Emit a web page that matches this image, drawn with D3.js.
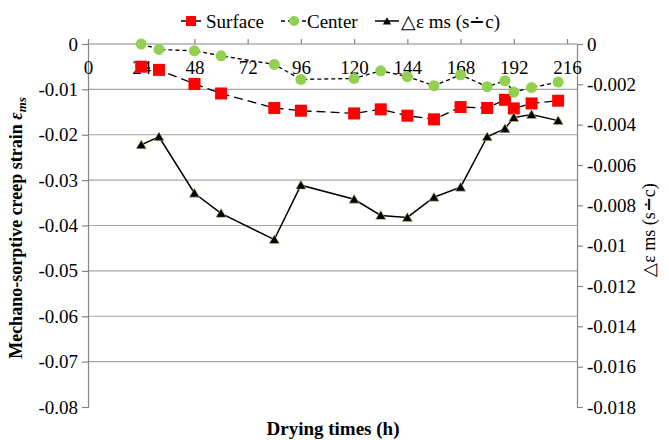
<!DOCTYPE html>
<html>
<head>
<meta charset="utf-8">
<script src="https://cdn.jsdelivr.net/npm/d3@7"></script>
<style>
  body { margin: 0; background: #fff; }
  svg { font-family: "Liberation Serif", "Times New Roman", serif; }
</style>
</head>
<body>
<svg></svg>
<script>
const width = 669;
const height = 440;

// drying time (h)
const hours = [24, 32, 48, 60, 84, 96, 120, 132, 144, 156, 168, 180, 188, 192, 200, 212];
// left axis series
const surface = [-0.0050, -0.0057, -0.0088, -0.0109, -0.0141, -0.0147, -0.0153, -0.0144, -0.0158, -0.0166, -0.0139, -0.0141, -0.0123, -0.0142, -0.0131, -0.0125];
const center = [0, -0.0012, -0.0015, -0.0026, -0.0045, -0.0078, -0.0076, -0.0059, -0.0072, -0.0092, -0.0068, -0.0094, -0.0081, -0.0106, -0.0096, -0.0084];
// right axis series
const delta = [-0.0050, -0.0046, -0.0074, -0.0084, -0.0097, -0.0070, -0.0077, -0.0085, -0.0086, -0.0076, -0.0071, -0.0046, -0.0042, -0.00365, -0.0035, -0.0038];

const xTicks = [0, 24, 48, 72, 96, 120, 144, 168, 192, 216];
const leftTicks = [0, -0.01, -0.02, -0.03, -0.04, -0.05, -0.06, -0.07, -0.08];
const rightTicks = [0, -0.002, -0.004, -0.006, -0.008, -0.01, -0.012, -0.014, -0.016, -0.018];

const plot = {left: 88, right: 577, top: 44, bottom: 407};

const svg = d3.select('svg')
    .attr('width', width)
    .attr('height', height);

const x = d3.scaleLinear().domain([0, 220.5]).range([plot.left, plot.right]);
const yL = d3.scaleLinear().domain([-0.08, 0]).range([plot.bottom, plot.top]);
const yR = d3.scaleLinear().domain([-0.018, 0]).range([plot.bottom, plot.top]);

// gridlines
svg.append('g')
    .selectAll('line')
    .data(leftTicks.filter(d => d < 0 && d > -0.08))
    .enter().append('line')
    .attr('x1', plot.left)
    .attr('x2', plot.right)
    .attr('y1', d => yL(d))
    .attr('y2', d => yL(d))
    .attr('stroke', '#a6a6a6')
    .attr('stroke-width', 1.2);

const numFmt = d => d === 0 ? '0' : '-' + String(+Math.abs(d).toFixed(3));

// left axis
const leftAxis = svg.append('g')
    .attr('transform', `translate(${plot.left},0)`)
    .call(d3.axisLeft(yL).tickValues(leftTicks).tickFormat(numFmt).tickSize(6).tickPadding(4));

// right axis
const rightAxis = svg.append('g')
    .attr('transform', `translate(${plot.right},0)`)
    .call(d3.axisRight(yR).tickValues(rightTicks).tickFormat(numFmt).tickSize(6).tickPadding(4));

// x axis along zero line, labels below
const xAxis = svg.append('g')
    .attr('transform', `translate(0,${plot.top})`)
    .call(d3.axisTop(x).tickValues(xTicks).tickSize(5));
xAxis.selectAll('text').attr('y', 24).attr('dy', '0.32em');

[leftAxis, rightAxis, xAxis].forEach(a => {
    a.attr('font-family', null).attr('font-size', null);
    a.select('.domain').attr('stroke', '#868686').attr('stroke-width', 1.2);
    a.selectAll('.tick line').attr('stroke', '#868686').attr('stroke-width', 1.2);
    a.selectAll('text')
        .attr('fill', '#000')
        .style('font-size', '19px');
});
xAxis.select('.domain').attr('d', `M${plot.left},0H${plot.right}`);

const idx = d3.range(hours.length);

const lineL = (arr) => d3.line().x(i => x(hours[i])).y(i => yL(arr[i]))(idx);
const lineR = (arr) => d3.line().x(i => x(hours[i])).y(i => yR(arr[i]))(idx);

// lines
svg.append('path')
    .attr('d', lineL(surface))
    .attr('fill', 'none')
    .attr('stroke', '#000')
    .attr('stroke-width', 1.3)
    .attr('stroke-dasharray', '9,5');

svg.append('path')
    .attr('d', lineL(center))
    .attr('fill', 'none')
    .attr('stroke', '#000')
    .attr('stroke-width', 1.3)
    .attr('stroke-dasharray', '4,3');

svg.append('path')
    .attr('d', lineR(delta))
    .attr('fill', 'none')
    .attr('stroke', '#000')
    .attr('stroke-width', 1.5);

// markers
const triangle = d3.symbol().type(d3.symbolTriangle).size(45);

svg.append('g').selectAll('rect')
    .data(idx)
    .enter().append('rect')
    .attr('x', i => x(hours[i]) - 6)
    .attr('y', i => yL(surface[i]) - 6)
    .attr('width', 12)
    .attr('height', 12)
    .attr('fill', '#ff0000');

svg.append('g').selectAll('circle')
    .data(idx)
    .enter().append('circle')
    .attr('cx', i => x(hours[i]))
    .attr('cy', i => yL(center[i]))
    .attr('r', 5.5)
    .attr('fill', '#92d050');

svg.append('g').selectAll('path')
    .data(idx)
    .enter().append('path')
    .attr('d', triangle)
    .attr('transform', i => `translate(${x(hours[i])},${yR(delta[i]) + 1})`)
    .attr('fill', '#000')
    .attr('stroke', '#c8c88a')
    .attr('stroke-width', 0.6);

// legend
const legend = svg.append('g').attr('transform', 'translate(0,21)');

legend.append('line').attr('x1', 181).attr('x2', 201).attr('y1', 0).attr('y2', 0)
    .attr('stroke', '#000').attr('stroke-width', 1.5);
legend.append('rect').attr('x', 186).attr('y', -5).attr('width', 10).attr('height', 10).attr('fill', '#ff0000');
legend.append('text').attr('x', 206).attr('y', 0).attr('dy', '0.35em').style('font-size', '19px').text('Surface');

legend.append('line').attr('x1', 281).attr('x2', 306).attr('y1', 0).attr('y2', 0)
    .attr('stroke', '#000').attr('stroke-width', 1.3).attr('stroke-dasharray', '4,3');
legend.append('circle').attr('cx', 294).attr('cy', 0).attr('r', 5).attr('fill', '#92d050');
legend.append('text').attr('x', 307).attr('y', 0).attr('dy', '0.35em').style('font-size', '19px').text('Center');

legend.append('line').attr('x1', 375).attr('x2', 399).attr('y1', 0).attr('y2', 0)
    .attr('stroke', '#000').attr('stroke-width', 1.5);
legend.append('path').attr('d', triangle.size(30)).attr('transform', 'translate(387,1)').attr('fill', '#000');
legend.append('text').attr('x', 401).attr('y', 0).attr('dy', '0.35em').style('font-size', '19px').text('△ε ms (s∸c)');

// axis titles
svg.append('text')
    .attr('transform', 'translate(22,228) rotate(-90)')
    .attr('text-anchor', 'middle')
    .style('font-size', '18px')
    .style('font-weight', 'bold')
    .html('Mechano-sorptive creep strain <tspan font-style="italic">ε<tspan font-size="13px" dy="4">ms</tspan></tspan>');

svg.append('text')
    .attr('transform', 'translate(655,230) rotate(-90)')
    .attr('text-anchor', 'middle')
    .style('font-size', '18px')
    .text('△ε ms (s∸c)');

svg.append('text')
    .attr('x', 333)
    .attr('y', 428)
    .attr('dy', '0.35em')
    .attr('text-anchor', 'middle')
    .style('font-size', '19px')
    .style('font-weight', 'bold')
    .text('Drying times (h)');
</script>
</body>
</html>
